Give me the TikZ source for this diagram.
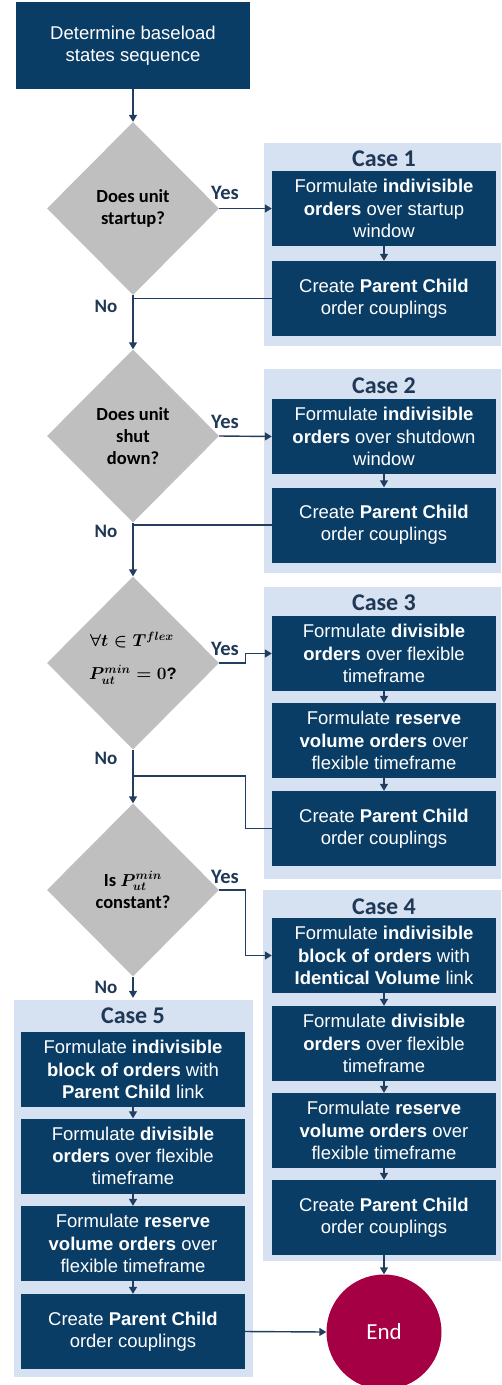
\documentclass[tikz,border=0pt]{standalone}
\usepackage{fontspec}
\setmainfont{Liberation Sans}
\newfontfamily\carlito{Carlito}
\usepackage{bm}
\usetikzlibrary{arrows.meta,shapes.geometric}
\definecolor{navy}{HTML}{0A3D66}
\definecolor{panelblue}{HTML}{D6E1F1}
\definecolor{diagray}{HTML}{BFBFBF}
\definecolor{conn}{HTML}{213D5F}
\definecolor{titlecol}{HTML}{1F3856}
\definecolor{endred}{HTML}{A50044}
\begin{document}
\begin{tikzpicture}[x=1pt,y=-1pt,
  box/.style={fill=navy, text=white, minimum width=224pt, minimum height=75pt, inner sep=0pt, align=center, font=\fontsize{18.5}{22.3}\selectfont},
  startbox/.style={box, minimum width=234pt, minimum height=87pt},
  dec/.style={diamond, fill=diagray, minimum width=172pt, minimum height=173pt, inner sep=0pt, align=center, font=\carlito\bfseries\fontsize{18.5}{22}\selectfont},
  mathtxt/.style={inner sep=0pt, font=\mathversion{bold}\fontsize{16.5}{20}\selectfont},
  panelbox/.style={fill=panelblue, inner sep=0pt},
  casetitle/.style={text=titlecol, font=\carlito\bfseries\fontsize{24}{28}\selectfont, inner sep=0pt},
  lab/.style={text=titlecol, font=\carlito\bfseries\fontsize{19}{22}\selectfont, inner sep=0pt},
  yeslab/.style={lab, font=\carlito\bfseries\fontsize{20.5}{22}\selectfont},
  line/.style={draw=conn, line width=1.4pt},
  arr/.style={line, -{Triangle[length=7pt,width=8pt]}},
  endnode/.style={circle, fill=endred, text=white, minimum size=115pt, inner sep=0pt, font=\carlito\fontsize{23}{26}\selectfont}
]
\useasboundingbox (0,0) rectangle (501,1385);

% panels
\node[panelbox, minimum width=237pt, minimum height=203pt] (p1) at (382.5,244.5) {};
\node[panelbox, minimum width=237pt, minimum height=204pt] (p2) at (382.5,471) {};
\node[panelbox, minimum width=237pt, minimum height=292pt] (p3) at (382.5,733) {};
\node[panelbox, minimum width=238pt, minimum height=371pt] (p4) at (382,1075.5) {};
\node[panelbox, minimum width=239pt, minimum height=377pt] (p5) at (133.5,1188.5) {};

\node[casetitle] (t1) at (384,159) {Case 1};
\node[casetitle] (t2) at (384,386) {Case 2};
\node[casetitle] (t3) at (384,603) {Case 3};
\node[casetitle] (t4) at (384,907) {Case 4};
\node[casetitle] (t5) at (133,1016) {Case 5};

% start
\node[startbox] (start) at (133,45.5) {Determine baseload\\states sequence};

% diamonds
\node[dec] (d1) at (133,208.5) {Does unit\\startup?};
\node[dec] (d2) at (133,436) {Does unit\\shut\\down?};
\node[dec] (d3) at (133,663) {};
\node[mathtxt] (d3a) at (132,640) {$\forall t \in T^{flex}$};
\node[mathtxt] (d3b) at (133,675) {$P_{ut}^{min} = 0$\textbf{?}};
\node[dec] (d4) at (133,890) {Is $\bm{P}_{\bm{ut}}^{\bm{min}}$\\constant?};

% case 1
\node[box] (b1a) at (384,208.5) {Formulate \textbf{indivisible}\\\textbf{orders} over startup\\window};
\node[box] (b1b) at (384,298.5) {Create \textbf{Parent Child}\\order couplings};
% case 2
\node[box] (b2a) at (384,436.5) {Formulate \textbf{indivisible}\\\textbf{orders} over shutdown\\window};
\node[box] (b2b) at (384,525) {Create \textbf{Parent Child}\\order couplings};
% case 3
\node[box] (b3a) at (384,653.5) {Formulate \textbf{divisible}\\\textbf{orders} over flexible\\timeframe};
\node[box] (b3b) at (384,740.5) {Formulate \textbf{reserve}\\\textbf{volume orders} over\\flexible timeframe};
\node[box] (b3c) at (384,828.5) {Create \textbf{Parent Child}\\order couplings};
% case 4
\node[box] (b4a) at (384,955.5) {Formulate \textbf{indivisible}\\\textbf{block of orders} with\\\textbf{Identical Volume} link};
\node[box] (b4b) at (384,1043.5) {Formulate \textbf{divisible}\\\textbf{orders} over flexible\\timeframe};
\node[box] (b4c) at (384,1130.5) {Formulate \textbf{reserve}\\\textbf{volume orders} over\\flexible timeframe};
\node[box] (b4d) at (384,1217.5) {Create \textbf{Parent Child}\\order couplings};
% case 5
\node[box] (b5a) at (133,1069.5) {Formulate \textbf{indivisible}\\\textbf{block of orders} with\\\textbf{Parent Child} link};
\node[box] (b5b) at (133,1156) {Formulate \textbf{divisible}\\\textbf{orders} over flexible\\timeframe};
\node[box] (b5c) at (133,1243.5) {Formulate \textbf{reserve}\\\textbf{volume orders} over\\flexible timeframe};
\node[box] (b5d) at (133,1331.5) {Create \textbf{Parent Child}\\order couplings};

% end
\node[endnode] (end) at (384,1332) {End};

% connectors
\draw[arr] (start) -- (d1);
\draw[arr] (d1.east) -- (b1a.west);
\draw[arr] (b1a) -- (b1b);
\draw[line] (b1b.west) -- (b1b.west -| d1.south);
\draw[arr] (d1.south) -- (d2.north);

\draw[arr] (d2.east) -- (b2a.west);
\draw[arr] (b2a) -- (b2b);
\draw[line] (b2b.west) -- (b2b.west -| d2.south);
\draw[arr] (d2.south) -- (d3.north);

\draw[arr] (d3.east) -- ++(26,0) |- (b3a.west);
\draw[arr] (b3a) -- (b3b);
\draw[arr] (b3b) -- (b3c);
\coordinate (j3) at (133,776);
\draw[line] (b3c.west) -- ++(-26.5,0) |- (j3);
\draw[arr] (d3.south) -- (d4.north);

\draw[arr] (d4.east) -- ++(26,0) |- (b4a.west);
\draw[arr] (b4a) -- (b4b);
\draw[arr] (b4b) -- (b4c);
\draw[arr] (b4c) -- (b4d);
\draw[arr] (b4d) -- (end);

\draw[arr, shorten >=2pt] (d4.south) -- (d4.south |- p5.north);
\draw[arr] (b5a) -- (b5b);
\draw[arr] (b5b) -- (b5c);
\draw[arr] (b5c) -- (b5d);
\draw[arr] (b5d.east) -- (end.west);

% labels
\node[yeslab] (y1) at (225,193) {Yes};
\node[yeslab] (y2) at (225,422) {Yes};
\node[yeslab] (y3) at (225,649) {Yes};
\node[yeslab] (y4) at (225,877) {Yes};
\node[lab] (n1) at (106,306) {No};
\node[lab] (n2) at (106,531) {No};
\node[lab] (n3) at (106,758) {No};
\node[lab] (n4) at (106,987) {No};
\end{tikzpicture}
\end{document}
